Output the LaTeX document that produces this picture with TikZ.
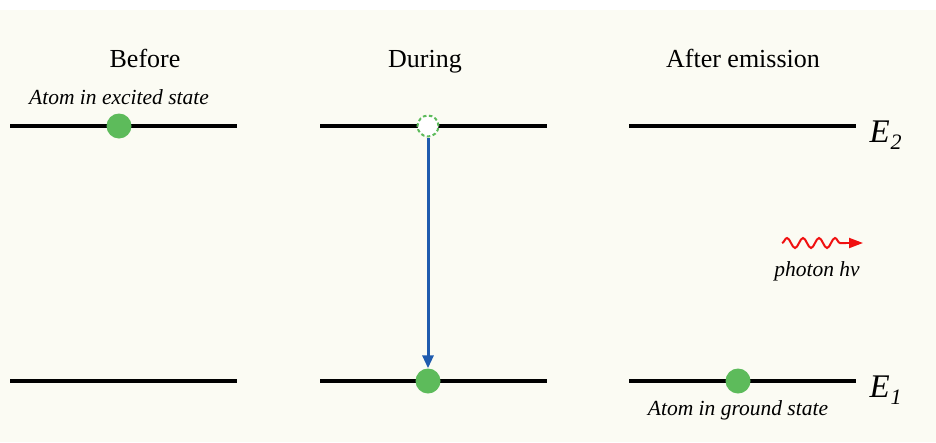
\documentclass[tikz,border=0pt]{standalone}
\usepackage{fontspec}
\setmainfont{Liberation Serif}
\usetikzlibrary{arrows.meta,decorations.pathmorphing}
\definecolor{cream}{HTML}{FBFBF3}
\definecolor{atomgreen}{HTML}{5DBB5B}
\definecolor{transblue}{HTML}{1F5BAE}
\definecolor{photonred}{HTML}{F01010}
\tikzset{
  level/.style={line width=3.6pt, black},
  atom/.style={circle, fill=atomgreen, minimum size=25pt, inner sep=0pt},
  emptyatom/.style={circle, draw=atomgreen, dash pattern=on 3.5pt off 2.5pt, line width=2pt, fill=white, minimum size=21pt, inner sep=0pt},
  heading/.style={font=\fontsize{26}{30}\selectfont, anchor=base},
  note/.style={font=\itshape\fontsize{21.5}{25}\selectfont, anchor=base},
  energy/.style={font=\itshape\fontsize{33}{38}\selectfont, anchor=west}
}
\begin{document}
\begin{tikzpicture}[x=1pt,y=-1pt]
  % canvas: white strip on top, cream panel below
  \fill[white] (0,0) rectangle (936,442);
  \fill[cream] (0,10) rectangle (936,442);
  \useasboundingbox (0,0) rectangle (936,442);

  % column headings
  \node[heading] (hBefore) at (145,67) {Before};
  \node[heading] (hDuring) at (425,67) {During};
  \node[heading] (hAfter) at (743,67) {After emission};

  % upper level E2
  \coordinate (u1a) at (10,126);  \coordinate (u1b) at (237,126);
  \coordinate (u2a) at (320,126); \coordinate (u2b) at (547,126);
  \coordinate (u3a) at (629,126); \coordinate (u3b) at (856,126);
  % lower level E1
  \coordinate (l1a) at (10,381);  \coordinate (l1b) at (237,381);
  \coordinate (l2a) at (320,381); \coordinate (l2b) at (547,381);
  \coordinate (l3a) at (629,381); \coordinate (l3b) at (856,381);

  \draw[level] (u1a) -- (u1b);
  \draw[level] (u2a) -- (u2b);
  \draw[level] (u3a) -- (u3b);
  \draw[level] (l1a) -- (l1b);
  \draw[level] (l2a) -- (l2b);
  \draw[level] (l3a) -- (l3b);

  % atoms
  \node[atom] (excited) at (119,126) {};
  \node[emptyatom] (vacated) at (428,126) {};
  \node[atom] (arrived) at (428,381) {};
  \node[atom] (ground) at (738,381) {};

  % transition arrow
  \draw[transblue, line width=3pt, -{Triangle[length=13pt,width=11pt]}]
    (vacated.south) -- (arrived.north);

  % labels
  \node[note] (lExcited) at (119,104) {Atom in excited state};
  \node[note] (lGround) at (738,415) {Atom in ground state};
  \node[energy] (E2) at (866,135) {E\kern1pt\raisebox{-7pt}{\fontsize{22}{24}\selectfont 2}};
  \node[energy] (E1) at (866,390) {E\kern1pt\raisebox{-7pt}{\fontsize{22}{24}\selectfont 1}};

  % emitted photon
  \coordinate (phA) at (782,243);
  \coordinate (phB) at (846,243);
  \coordinate (phC) at (863,243);
  \draw[photonred, line width=2pt, decorate,
        decoration={snake, segment length=16pt, amplitude=5pt}]
    (phA) -- (phB);
  \draw[photonred, line width=2pt, -{Triangle[length=14pt,width=10pt]}] (phB) -- (phC);
  \node[note] (lPhoton) at (817,276) {photon hν};
\end{tikzpicture}
\end{document}
